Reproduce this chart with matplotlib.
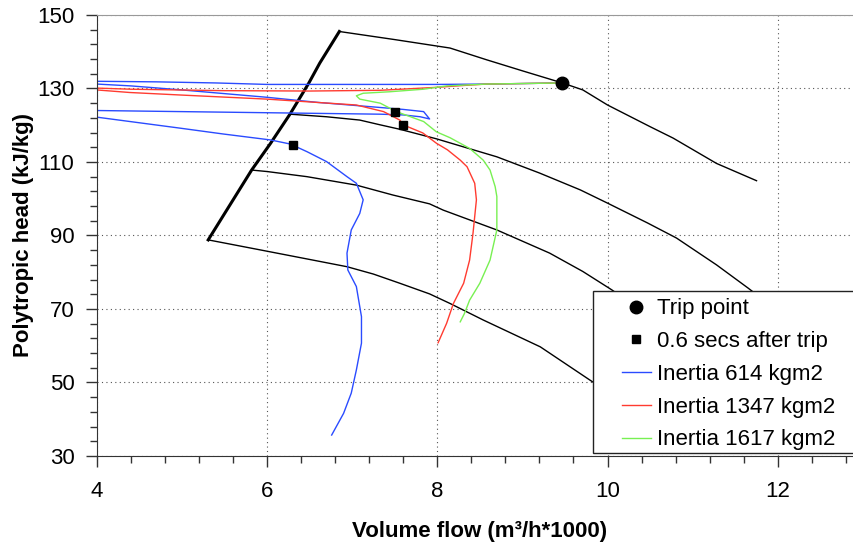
import matplotlib
matplotlib.use('Agg')
import matplotlib.pyplot as plt
from matplotlib.ticker import MultipleLocator
from matplotlib.patches import Rectangle

plt.rcParams['font.family'] = ['Liberation Sans', 'DejaVu Sans']

# constant speed lines (black)
speed1_x = [6.85, 7.5, 8.15, 8.58, 9.0, 9.47, 9.71, 10.0, 10.5, 10.77, 11.28, 11.75]
speed1_y = [145.5, 143.3, 141.0, 137.8, 134.8, 131.5, 129.6, 125.5, 119.6, 116.5, 109.6, 104.9]
speed2_x = [6.27, 6.7, 7.09, 7.33, 7.56, 7.99, 8.70, 9.2, 9.68, 10.0, 10.47, 10.81, 11.28, 11.65, 12.0]
speed2_y = [123.0, 122.3, 121.4, 120.1, 118.9, 116.3, 111.4, 107.0, 102.4, 98.8, 93.4, 89.3, 82.0, 75.7, 69.5]
speed3_x = [5.82, 6.0, 6.47, 7.05, 7.48, 7.91, 8.07, 8.70, 9.32, 9.71, 10.05, 10.5]
speed3_y = [107.8, 107.4, 106.0, 103.7, 101.0, 98.6, 96.9, 91.5, 85.2, 80.2, 75.2, 68.0]
speed4_x = [5.31, 5.96, 6.54, 6.94, 7.25, 7.56, 7.91, 8.15, 8.54, 9.21, 9.79, 10.3]
speed4_y = [88.8, 85.9, 83.3, 81.5, 79.5, 77.0, 74.1, 71.5, 67.0, 59.7, 50.7, 43.0]

# surge line (thick black)
surge_x = [5.31, 5.82, 6.04, 6.27, 6.49, 6.62, 6.85]
surge_y = [88.8, 107.8, 115.0, 123.0, 131.4, 136.9, 145.5]

# trip trajectories
blue_x = [9.47, 8.6, 8.0, 7.0, 6.0, 5.4, 4.7, 4.0, 3.9,
          3.9, 4.0, 4.4, 5.0, 6.0, 6.6, 7.29, 7.6, 7.84, 7.91,
          7.80, 7.6, 7.33, 6.0, 5.0, 4.0, 3.9,
          3.9, 4.0, 4.98, 5.49, 6.04, 6.27, 6.31, 6.47, 6.70, 6.94, 7.05, 7.13, 7.09,
          6.99, 6.94, 6.95, 7.05, 7.11, 7.11, 7.05, 6.99, 6.90, 6.76]
blue_y = [131.5, 131.2, 131.1, 131.1, 131.1, 131.5, 131.8, 131.95, 132.0,
          131.3, 131.2, 130.7, 129.6, 127.6, 126.2, 124.9, 124.3, 123.7, 121.7,
          122.3, 122.8, 123.0, 123.4, 123.7, 124.0, 124.0,
          122.3, 122.2, 119.2, 117.6, 116.0, 114.9, 114.5, 112.8, 110.1, 106.0, 104.2, 99.7, 96.0,
          91.5, 85.2, 80.6, 76.1, 67.9, 60.7, 53.4, 47.1, 41.6, 35.7]

red_x = [9.47, 8.58, 8.3, 7.99, 7.33, 6.5, 5.5, 4.4, 4.0, 3.9,
         3.9, 4.0, 4.39, 5.0, 6.0, 7.05, 7.37, 7.56, 7.60, 7.83, 7.99, 8.12, 8.27, 8.35,
         8.44, 8.46, 8.42, 8.38, 8.31, 8.19, 8.11, 8.01]
red_y = [131.5, 131.2, 130.8, 130.3, 129.5, 129.3, 129.4, 129.8, 130.1, 130.2,
         129.7, 129.6, 128.9, 128.2, 127.1, 125.5, 123.7, 121.4, 120.1, 117.9, 115.1, 113.3, 110.5, 108.7,
         104.2, 99.7, 90.6, 83.3, 77.0, 71.5, 66.1, 60.8]

green_x = [9.47, 8.58, 8.11, 7.84, 7.44, 7.13, 7.05, 7.09, 7.33, 7.52, 7.84, 7.99, 8.15, 8.38,
           8.54, 8.62, 8.68, 8.70, 8.70, 8.62, 8.50, 8.38, 8.32, 8.27]
green_y = [131.5, 131.2, 130.7, 129.8, 129.1, 128.7, 128.0, 127.1, 126.0, 123.7, 121.0, 118.2, 116.6, 113.7,
           110.5, 107.8, 103.3, 100.6, 91.5, 83.3, 77.0, 72.4, 68.8, 66.5]

trip_x = [9.47]
trip_y = [131.5]
after_x = [6.31, 7.50, 7.60]
after_y = [114.5, 123.5, 120.1]

fig = plt.figure(figsize=(8.54, 5.42), dpi=100)
ax = fig.add_axes([0.1132, 0.1587, 0.8973, 0.8137])

for sx, sy in [(speed1_x, speed1_y), (speed2_x, speed2_y), (speed3_x, speed3_y), (speed4_x, speed4_y)]:
    ax.plot(sx, sy, color='black', lw=1.0)
ax.plot(surge_x, surge_y, color='black', lw=2.2)

l1, = ax.plot(blue_x, blue_y, color='#2a4bff', lw=1.0, label='Inertia 614 kgm2')
l2, = ax.plot(red_x, red_y, color='#ff3b30', lw=1.0, label='Inertia 1347 kgm2')
l3, = ax.plot(green_x, green_y, color='#78f052', lw=1.0, label='Inertia 1617 kgm2')
p1, = ax.plot(trip_x, trip_y, 'o', color='black', ms=9, label='Trip point')
p2, = ax.plot(after_x, after_y, 's', color='black', ms=6, label='0.6 secs after trip')

ax.set_xlim(4, 13)
ax.set_ylim(30, 150)
ax.xaxis.set_major_locator(MultipleLocator(2))
ax.xaxis.set_minor_locator(MultipleLocator(0.4))
ax.set_yticks(list(range(30, 151, 20)))
ax.set_yticks(list(range(30, 151, 4)), minor=True)
ax.tick_params(which='major', direction='out', length=8, width=1, labelsize=16, color='#333333')
ax.tick_params(which='minor', direction='out', length=5, width=1, color='#333333')
ax.tick_params(axis='x', which='major', pad=10)
ax.tick_params(axis='y', which='major', pad=8)

ax.set_axisbelow(True)
ax.grid(True, which='major', ls=(0, (1, 3)), color='#555555', lw=0.8)
ax.spines['top'].set_color('#999999')
ax.spines['right'].set_visible(False)
ax.spines['left'].set_color('#333333')
ax.spines['bottom'].set_color('#333333')

ax.set_xlabel('Volume flow (m³/h*1000)', fontsize=16, fontweight='bold', labelpad=14)
ax.set_ylabel('Polytropic head (kJ/kg)', fontsize=16, fontweight='bold', labelpad=2)

box = Rectangle((0.694, 0.1637), 0.33, 0.30, transform=fig.transFigure, facecolor='white',
                edgecolor='#222222', lw=1.0, zorder=4, clip_on=False)
ax.add_patch(box)
ax.legend(handles=[p1, p2, l1, l2, l3], loc='upper left', bbox_to_anchor=(0.728, 0.4496),
          bbox_transform=fig.transFigure, frameon=False, fontsize=16, borderpad=0,
          borderaxespad=0, handlelength=1.3, handletextpad=0.27, labelspacing=0.53)

fig.savefig('out.png', dpi=100)
